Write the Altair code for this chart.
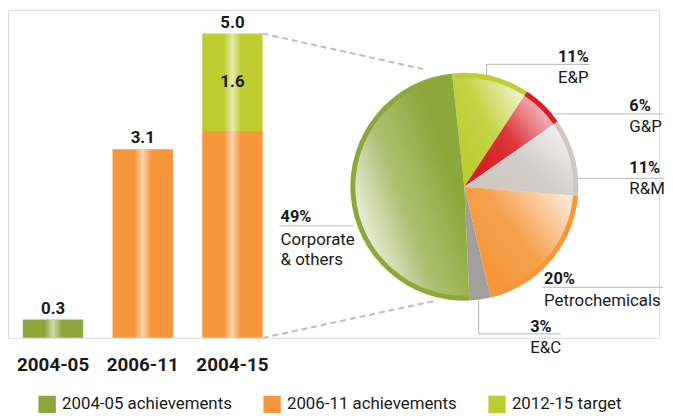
import altair as alt
import pandas as pd
import math

# ---------------- data ----------------
bar_categories = ["2004-05", "2006-11", "2004-15", "2004-15"]
bar_series = ["2004-05 achievements", "2006-11 achievements", "2006-11 achievements", "2012-15 target"]
bar_values = [0.3, 3.1, 3.4, 1.6]
bar_segment = [0, 0, 0, 1]
category_order = ["2004-05", "2006-11", "2004-15"]
series_names = ["2004-05 achievements", "2006-11 achievements", "2012-15 target"]

sectors = ["E&P", "G&P", "R&M", "Petrochemicals", "E&C", "Corporate & others"]
shares = [11, 6, 11, 20, 3, 49]

# ---------------- styles / layout ----------------
series_colors = ["#8ca83a", "#f5973a", "#bfcd31"]
sector_colors = ["#bfcd31", "#d81f26", "#cdc8c2", "#f5973a", "#a29f9b", "#8ca83a"]
FONT = "Roboto"
TXT = "#1a1a1a"

label_x = [555, 627, 627, 541, 527, 275]
pct_y = [52.5, 102, 165, 277, 325, 214.5]
name_y = [73.5, 123, 186, 298.5, 346, 237]
leader_x = [483, 483, 551, 574, 539, 475, 475, 274]
leader_y = [55, 55, 105, 170, 280, 292, 327, 218]
leader_x2 = [483, 587, 661, 662, 661, 475, 558, 349]
leader_y2 = [67, 55, 105, 170, 280, 327, 327, 218]

PIE_X, PIE_Y = 460.5, 178.5
start = 2 * math.pi - 0.108

W, H = 657, 331

# ---------------- bars ----------------
bars_df = pd.DataFrame({"category": bar_categories, "series": bar_series,
                        "value": bar_values, "seg": bar_segment})

base = (alt.Chart(bars_df)
        .transform_window(y_end="sum(value)", groupby=["category"], sort=[alt.SortField("seg")])
        .transform_calculate(y_start="datum.y_end - datum.value",
                             y_mid="(datum.y_end + datum.y_end - datum.value) / 2"))

x_enc = alt.X("category:N", sort=category_order,
              scale=alt.Scale(range=[0, 272], paddingInner=0.326, paddingOuter=0.166),
              axis=alt.Axis(title=None, domain=False, ticks=False, labelPadding=18,
                            labelFontSize=19, labelFontWeight="bold", labelFont=FONT,
                            labelColor=TXT, labelAngle=0))
y_scale = alt.Scale(domain=[0, 5.39], nice=False, zero=True)

legend = alt.Legend(title=None, orient="none", legendX=30.5, legendY=389, direction="horizontal",
                    columns=3, symbolType="square", symbolSize=306, symbolStrokeWidth=0,
                    labelFontSize=17, labelFont=FONT, labelColor=TXT, columnPadding=31,
                    labelOffset=6, labelLimit=400, padding=0)

bar_base = base.mark_bar().encode(
    x=x_enc,
    y=alt.Y("y_start:Q", scale=y_scale, axis=None),
    y2="y_end:Q",
    color=alt.Color("series:N", scale=alt.Scale(domain=series_names, range=series_colors), legend=legend),
)

shine = {"gradient": "linear", "x1": 0, "x2": 1, "y1": 0, "y2": 0,
         "stops": [{"offset": 0, "color": "rgba(255,255,255,0)"},
                   {"offset": 0.36, "color": "rgba(255,255,255,0)"},
                   {"offset": 0.5, "color": "rgba(255,255,255,0.6)"},
                   {"offset": 0.64, "color": "rgba(255,255,255,0)"},
                   {"offset": 1, "color": "rgba(255,255,255,0)"}]}

bar_shine = base.mark_bar(color=shine).encode(
    x=x_enc, y=alt.Y("y_start:Q", scale=y_scale, axis=None), y2="y_end:Q")

top_labels = (base.transform_joinaggregate(maxseg="max(seg)", groupby=["category"])
              .transform_filter("datum.seg == datum.maxseg")
              .mark_text(dy=-6, baseline="alphabetic", fontSize=17, fontWeight="bold", font=FONT, color=TXT)
              .encode(x=x_enc, y=alt.Y("y_end:Q", scale=y_scale, axis=None),
                      text=alt.Text("y_end:Q", format=".1f")))

mid_label = (base.transform_filter("datum.seg > 0")
             .mark_text(baseline="middle", fontSize=17, fontWeight="bold", font=FONT, color=TXT)
             .encode(x=x_enc, y=alt.Y("y_mid:Q", scale=y_scale, axis=None),
                     text=alt.Text("value:Q", format=".1f")))

one = alt.Data(values=[{"k": 0}])
dash = dict(color="#bdbdbd", strokeWidth=2, strokeDash=[6, 4])
conn_top = alt.Chart(one).mark_rule(**dash).encode(
    x=alt.value(257), x2=alt.value(420),
    y=alt.Y(datum=5.0, scale=y_scale, axis=None), y2=alt.value(60))
conn_bot = alt.Chart(one).mark_rule(**dash).encode(
    x=alt.value(257), x2=alt.value(429),
    y=alt.Y(datum=0, scale=y_scale, axis=None), y2=alt.value(294))

bar_group = alt.layer(conn_top, conn_bot, bar_base, bar_shine, top_labels, mid_label)

# ---------------- pie ----------------
pie_df = pd.DataFrame({"sector": sectors, "share": shares, "idx": list(range(len(sectors))),
                       "lx": label_x, "py": pct_y, "ny": name_y})

pie_base = (alt.Chart(pie_df)
            .transform_window(cum="sum(share)", sort=[alt.SortField("idx")])
            .transform_calculate(st="datum.cum - datum.share"))

theta_scale = alt.Scale(domain=[0, 100], range=[start, start + 2 * math.pi])
theta_enc = alt.Theta("st:Q", scale=theta_scale, stack=False)

pie_solid = pie_base.mark_arc(outerRadius=115, stroke=None).encode(
    theta=theta_enc, theta2="cum:Q",
    x=alt.value(PIE_X), y=alt.value(PIE_Y),
    color=alt.Color("sector:N", scale=alt.Scale(domain=sectors, range=sector_colors), legend=None),
)

corp_grad = {"gradient": "linear", "x1": 0, "y1": 0.8, "x2": 0.75, "y2": 0.3,
             "stops": [{"offset": 0, "color": "rgba(255,255,255,0.97)"},
                       {"offset": 0.5, "color": "rgba(255,255,255,0.3)"},
                       {"offset": 1, "color": "rgba(255,255,255,0)"}]}
right_grad = {"gradient": "linear", "x1": 0.2, "y1": 0.8, "x2": 1, "y2": 0.2,
              "stops": [{"offset": 0, "color": "rgba(255,255,255,0)"},
                        {"offset": 0.45, "color": "rgba(255,255,255,0.1)"},
                        {"offset": 1, "color": "rgba(255,255,255,0.75)"}]}

pie_corp = (pie_base.transform_filter("datum.sector == 'Corporate & others'")
            .mark_arc(outerRadius=110, color=corp_grad)
            .encode(theta=theta_enc, theta2="cum:Q", x=alt.value(PIE_X), y=alt.value(PIE_Y)))
pie_right = (pie_base.transform_filter("datum.idx < 4")
             .mark_arc(outerRadius=110, color=right_grad)
             .encode(theta=theta_enc, theta2="cum:Q", x=alt.value(PIE_X), y=alt.value(PIE_Y)))

lead_df = pd.DataFrame({"x": leader_x, "y": leader_y, "x2": leader_x2, "y2": leader_y2})
leaders = alt.Chart(lead_df).mark_rule(color="#b5b5b5", strokeWidth=1).encode(
    x=alt.X("x:Q", scale=None, axis=None), y=alt.Y("y:Q", scale=None, axis=None),
    x2="x2:Q", y2="y2:Q")

pct_text = (alt.Chart(pie_df).transform_calculate(t="datum.share + '%'")
            .mark_text(align="left", baseline="alphabetic", fontSize=16.5, fontWeight="bold", font=FONT, color=TXT)
            .encode(x=alt.X("lx:Q", scale=None, axis=None), y=alt.Y("py:Q", scale=None, axis=None), text="t:N"))
name_text = (alt.Chart(pie_df).transform_calculate(t="replace(datum.sector, ' & ', '\\n& ')")
             .mark_text(align="left", baseline="alphabetic", fontSize=17, font=FONT, color=TXT,
                        lineBreak="\n", lineHeight=20)
             .encode(x=alt.X("lx:Q", scale=None, axis=None), y=alt.Y("ny:Q", scale=None, axis=None), text="t:N"))

pie_group = alt.layer(pie_solid, pie_corp, pie_right, leaders, pct_text, name_text)

chart = (alt.layer(bar_group, pie_group)
         .resolve_scale(x="independent", y="independent", color="independent")
         .properties(width=W, height=H, padding={"left": 0, "top": 0, "right": 0, "bottom": 0})
         .configure_view(stroke=None)
         .configure(background="white"))

chart.save("out.html", embed_options={"renderer": "svg", "actions": False})
